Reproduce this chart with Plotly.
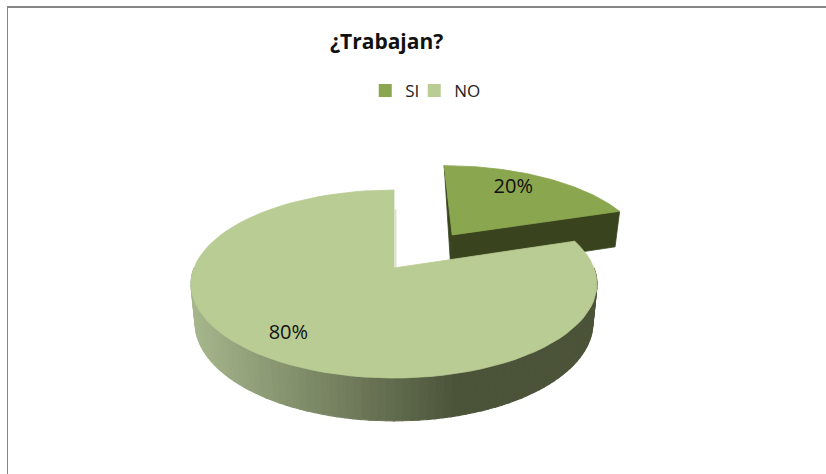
import math
import plotly.graph_objects as go

categories = ["SI", "NO"]
values = [20, 80]
top_colors = ["#8AA64E", "#B9CC93"]
chart_title = "¿Trabajan?"

# Projection of the tilted pie onto the page
APEX_X, APEX_Y = 394, 268
A, B, K = 200, 91.3, 0.17
PULL_U, PULL_V = 0.31, 0.385
N = 90


def project(u, v, z=0.0):
    w = 1 + K * v
    d = z * (38 - 4 * (v / w))
    s = 1 - 0.02 * z
    return APEX_X + s * A * u / w, APEX_Y - B * v / w + d


def rim(theta_deg, z=0.0, pu=0.0, pv=0.0, r=1.0):
    t = math.radians(theta_deg)
    return project(pu + r * math.sin(t), pv + r * math.cos(t), z)


def arc(t0, t1, z=0.0, pu=0.0, pv=0.0, n=N):
    return [rim(t0 + (t1 - t0) * i / n, z, pu, pv) for i in range(n + 1)]


def poly(points, color, width=0.8):
    xs = [p[0] for p in points] + [points[0][0]]
    ys = [p[1] for p in points] + [points[0][1]]
    return go.Scatter(
        x=xs, y=ys, mode="lines", fill="toself", fillcolor=color,
        line=dict(color=color, width=width),
        hoverinfo="skip", showlegend=False,
    )


def mix(c0, c1, f):
    f = max(0.0, min(1.0, f))
    return "rgb(%d,%d,%d)" % tuple(round(a + (b - a) * f) for a, b in zip(c0, c1))


total = sum(values)
si_end = 360 * values[0] / total

fig = go.Figure()

# Exploded slice (SI): walls then top
apex_top = project(PULL_U, PULL_V)
apex_bot = project(PULL_U, PULL_V, 1)
end_top = rim(si_end, 0, PULL_U, PULL_V)
end_bot = rim(si_end, 1, PULL_U, PULL_V)
start_top = rim(0, 0, PULL_U, PULL_V)
fig.add_trace(poly([start_top, apex_top, apex_bot], "#39451F"))
fig.add_trace(poly([apex_top, end_top, end_bot, apex_bot], "#39441E"))
fig.add_trace(poly([apex_top] + arc(0, si_end, 0, PULL_U, PULL_V), top_colors[0]))

# Main slice (NO): curved wall with a light-to-dark sweep
LIGHT, DARK = (166, 182, 140), (75, 83, 57)
for i in range(N):
    t0 = 90 + 180 * i / N
    t1 = 90 + 180 * (i + 1) / N
    a0, a1 = rim(t0), rim(t1)
    b0, b1 = rim(t0, 1), rim(t1, 1)
    xm = (a0[0] + a1[0]) / 2
    fig.add_trace(poly([a0, a1, b1, b0], mix(LIGHT, DARK, (192 - xm) / (192 - 457)), 1.2))

# Faint cut wall beside the opening
wall_a, wall_b = rim(0, 0, 0, 0, 0.72), project(0, 0)
fig.add_trace(go.Scatter(
    x=[wall_a[0] + 1.5, wall_b[0] + 1.5], y=[wall_a[1], wall_b[1]], mode="lines",
    line=dict(color="#DDE1D3", width=2), hoverinfo="skip", showlegend=False,
))
fig.add_trace(poly([project(0, 0)] + arc(si_end, 360), top_colors[1]))

# Percentage labels placed along each slice's mid-angle
si_mid = si_end / 2
no_mid = si_end + (360 - si_end) / 2
lx0, ly0 = rim(si_mid - 5, 0, PULL_U, PULL_V, 0.76)
lx1, ly1 = rim(no_mid, 0, 0, 0, 0.80)
fig.add_trace(go.Scatter(
    x=[lx0, lx1], y=[ly0, ly1], mode="text",
    text=[f"{v}%" for v in values],
    textfont=dict(family="Open Sans", size=20, color="#111111"),
    hoverinfo="skip", showlegend=False,
))

# Legend entries, one legend each so their spacing can follow the reference
for name, color, legend_id in zip(categories, top_colors, ["legend", "legend2"]):
    fig.add_trace(go.Scatter(
        x=[None], y=[None], mode="markers", name=name, legend=legend_id,
        marker=dict(symbol="square", size=13, color=color), showlegend=True,
    ))

legend_style = dict(
    orientation="h", xanchor="left", y=0.808, yanchor="middle", itemwidth=30,
    font=dict(family="Open Sans", size=17, color="#222222"),
    bgcolor="rgba(0,0,0,0)",
)

fig.update_layout(
    width=826, height=474,
    margin=dict(l=0, r=0, t=0, b=0),
    paper_bgcolor="white", plot_bgcolor="white",
    xaxis=dict(range=[0, 826], visible=False, fixedrange=True),
    yaxis=dict(range=[474, 0], visible=False, fixedrange=True),
    font=dict(family="Open Sans", color="#222222"),
    legend=dict(x=0.4422, **legend_style),
    legend2=dict(x=0.5015, **legend_style),
    annotations=[dict(
        text=f"<b>{chart_title}</b>", x=386, y=41, xref="x", yref="y",
        showarrow=False, font=dict(family="Open Sans", size=21, color="#111111"),
    )],
    shapes=[
        dict(type="line", xref="x", yref="y", x0=7.5, x1=7.5, y0=6, y1=474,
             line=dict(color="#868686", width=1)),
        dict(type="line", xref="x", yref="y", x0=7, x1=826, y0=7, y1=7,
             line=dict(color="#868686", width=2)),
    ],
)

fig.write_html(
    "out.html",
    config={"displayModeBar": False},
    post_script="document.body.style.margin='0';",
)
